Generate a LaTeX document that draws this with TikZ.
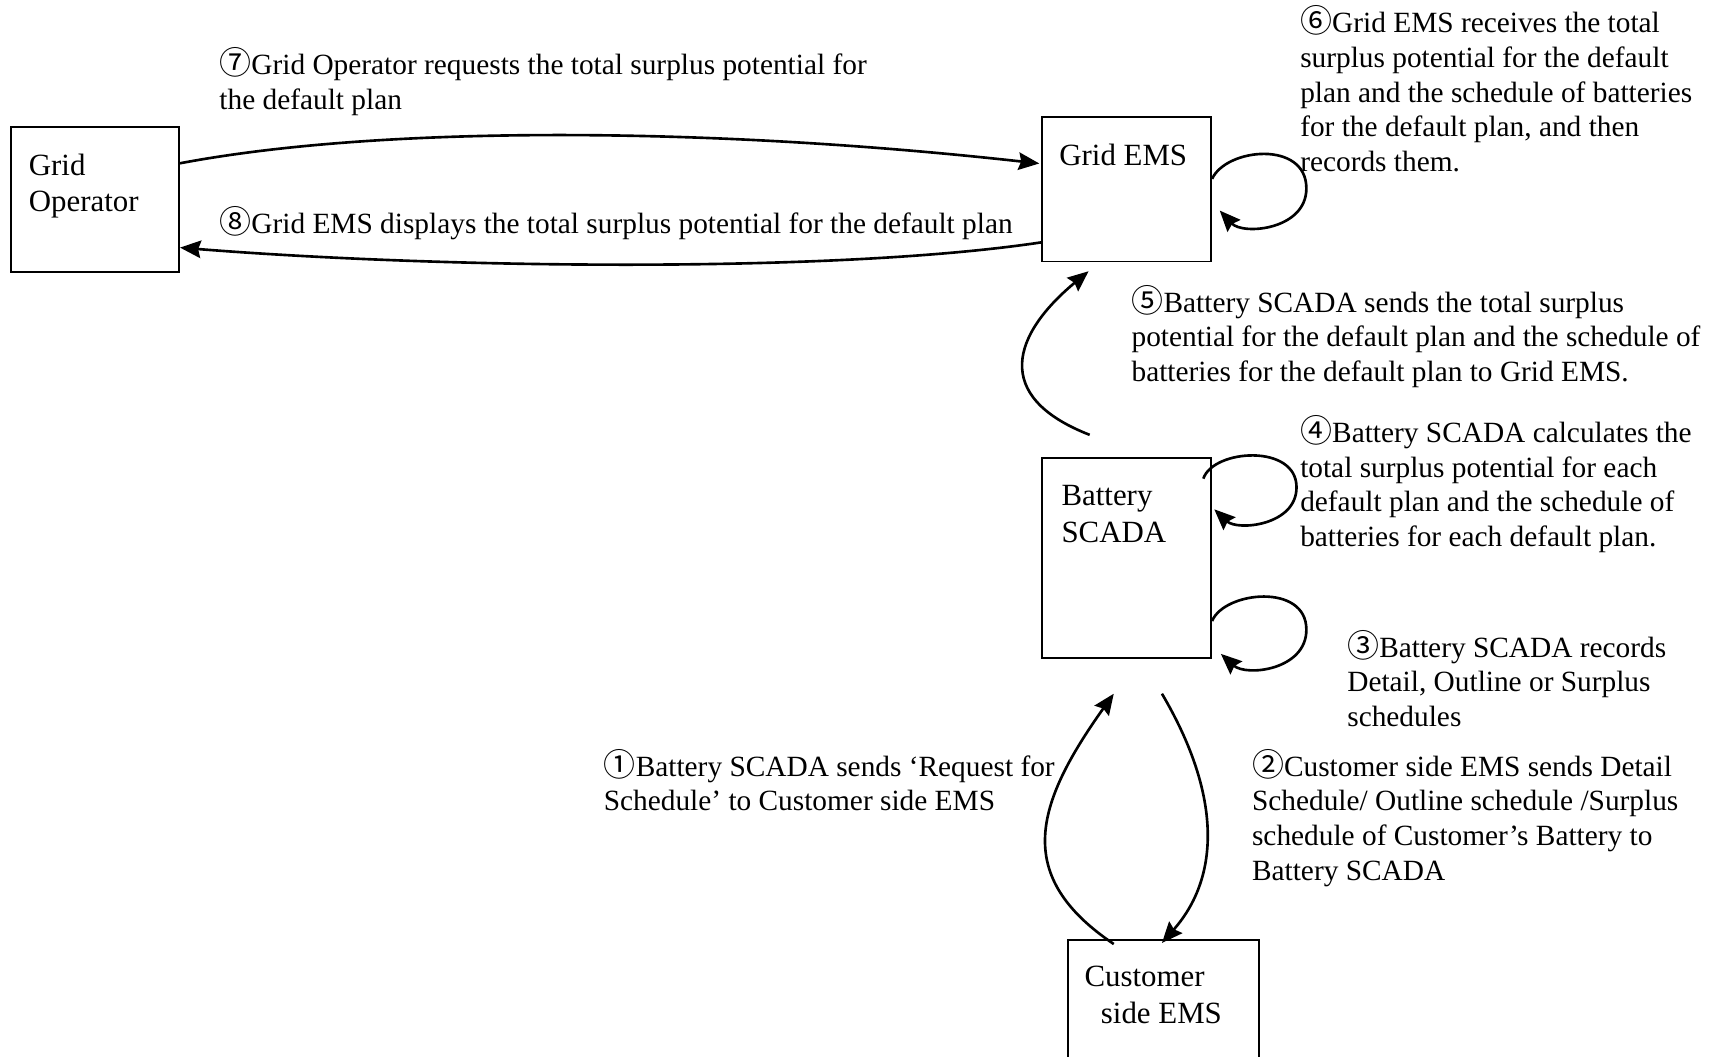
\documentclass[tikz,border=0pt]{standalone}
\usepackage{fontspec}
\setmainfont{Liberation Serif}
\newfontfamily\cjkdigits{Noto Sans CJK JP}
\newcommand\cnum[1]{{\fontsize{14.6}{15.8}\selectfont\cjkdigits #1}}
\usetikzlibrary{arrows.meta,calc}

% multi-line nodes are placed by the baseline of their last line
\tikzset{
  box/.style={draw, line width=0.9pt, inner sep=0pt, rectangle},
  boxtext/.style={anchor=base west, align=left, inner sep=0pt,
    font=\fontsize{14.1}{16.75}\selectfont},
  steptext/.style={anchor=base west, align=left, inner sep=0pt,
    font=\fontsize{13.4}{15.8}\selectfont},
  conn/.style={line width=1.2pt,
    -{Stealth[length=9.5pt, width=8pt, inset=1.2pt]}},
}

\begin{document}
\begin{tikzpicture}[x=0.5pt, y=-0.5pt]
\clip (0,0) rectangle (1568,965);

% actors
\node[box, minimum width=76.75pt, minimum height=66pt] (gop) at (86.75,182) {};
\node[box, minimum width=77pt, minimum height=65.8pt] (gems) at (1029,173) {};
\node[box, minimum width=77pt, minimum height=91.3pt] (bat) at (1029,509.3) {};
\node[box, minimum width=87.5pt, minimum height=71pt] (cust) at (1062.5,929) {};

\node[boxtext] (gopT) at (26,193.5) {Grid\\Operator};
\node[boxtext] (gemsT) at (967,151) {Grid EMS};
\node[boxtext] (batT) at (969,495.5) {Battery\\SCADA};
\node[boxtext] (custT) at (990,934.5) {Customer\\\hspace*{7.5pt}side EMS};

% step descriptions
\node[steptext] (s7) at (200,99.6) {\cnum{⑦}Grid Operator requests the total surplus potential for\\the default plan};
\node[steptext] (s8) at (200,213) {\cnum{⑧}Grid EMS displays the total surplus potential for the default plan};
\node[steptext] (s6) at (1187,156.4) {\cnum{⑥}Grid EMS receives the total\\surplus potential for the default\\plan and the schedule of batteries\\for the default plan, and then\\records them.};
\node[steptext] (s5) at (1033,348.2) {\cnum{⑤}Battery SCADA sends the total surplus\\potential for the default plan and the schedule of\\batteries for the default plan to Grid EMS.};
\node[steptext] (s4) at (1187,498.8) {\cnum{④}Battery SCADA calculates the\\total surplus potential for each\\default plan and the schedule of\\batteries for each default plan.};
\node[steptext] (s3) at (1230,663.2) {\cnum{③}Battery SCADA records\\Detail, Outline or Surplus\\schedules};
\node[steptext] (s2) at (1143,803.8) {\cnum{②}Customer side EMS sends Detail\\Schedule/ Outline schedule /Surplus\\schedule of Customer’s Battery to\\Battery SCADA};
\node[steptext] (s1) at (551,740.6) {\cnum{①}Battery SCADA sends ‘Request for\\Schedule’ to Customer side EMS};

% step 7 and 8: operator <-> grid EMS
\draw[conn] ($(gop.north east)+(0,34)$) .. controls (350,114) and (650,116) .. ($(gems.north west)+(-2,43)$);
\draw[conn] ($(gems.north west)+(0,115)$) .. controls (760,250) and (400,245) .. ($(gop.north east)+(0,111)$);

% step 6: grid EMS records
\draw[conn] ($(gems.north east)+(0,57)$) .. controls (1120,135) and (1193,128) .. (1193,172)
  .. controls (1193,210) and (1135,215) .. ($(gems.north east)+(7,86)$);

% step 5: battery SCADA -> grid EMS
\draw[conn] ($(bat.north west)+(44,-20)$) .. controls (905,362) and (925,305) .. ($(gems.south west)+(43,8)$);

% step 4: battery SCADA calculates
\draw[conn] ($(bat.north east)+(-8,20)$) .. controls (1108,410) and (1184,405) .. (1184,445)
  .. controls (1184,480) and (1130,485) .. ($(bat.north east)+(2,48)$);

% step 3: battery SCADA records
\draw[conn] ($(bat.north east)+(0,150)$) .. controls (1118,540) and (1193,532) .. (1193,575)
  .. controls (1193,612) and (1138,618) .. ($(bat.north east)+(8,180)$);

% step 1 and 2: battery SCADA <-> customer side EMS
\draw[conn] ($(cust.north west)+(43,5)$) .. controls (925,800) and (945,735) .. ($(bat.south west)+(66,32)$);
\draw[conn] ($(bat.south west)+(110,32)$) .. controls (1115,725) and (1115,800) .. ($(cust.north west)+(87,4)$);
\end{tikzpicture}
\end{document}
